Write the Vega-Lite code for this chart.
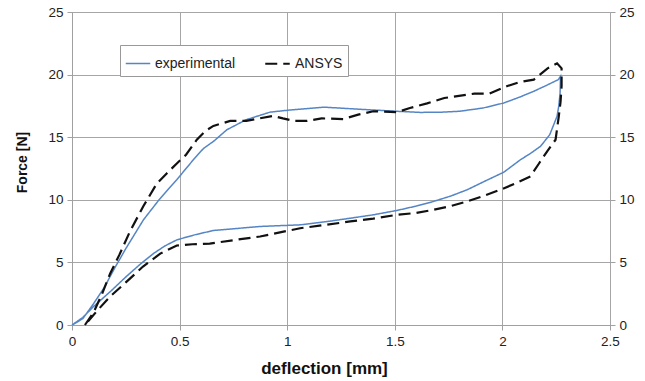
{
  "$schema": "https://vega.github.io/schema/vega-lite/v6.json",
  "width": 538,
  "height": 313,
  "autosize": {"type": "none"},
  "padding": {"left": 72, "top": 12, "right": 35, "bottom": 56},
  "background": "white",
  "config": {
    "font": "Liberation Sans",
    "view": {"stroke": "#a0a0a0", "strokeWidth": 1},
    "axis": {
      "gridColor": "#a6a6a6",
      "gridWidth": 1,
      "gridOpacity": 1,
      "domainColor": "#a0a0a0",
      "tickColor": "#a0a0a0",
      "tickSize": 5,
      "labelFont": "Liberation Sans",
      "labelFontSize": 13.5,
      "labelColor": "#222",
      "titleFont": "Liberation Sans",
      "titleFontSize": 16,
      "titleFontWeight": "bold",
      "titleColor": "#111",
      "labelPadding": 4
    }
  },
  "data": {
    "values": [
      {"series": "experimental", "i": 1, "x": 0, "y": 0},
      {"series": "experimental", "i": 2, "x": 0.05, "y": 0.5},
      {"series": "experimental", "i": 3, "x": 0.1, "y": 1.7},
      {"series": "experimental", "i": 4, "x": 0.15, "y": 3.0},
      {"series": "experimental", "i": 5, "x": 0.2, "y": 4.6},
      {"series": "experimental", "i": 6, "x": 0.25, "y": 6.1},
      {"series": "experimental", "i": 7, "x": 0.332, "y": 8.4},
      {"series": "experimental", "i": 8, "x": 0.4, "y": 9.9},
      {"series": "experimental", "i": 9, "x": 0.45, "y": 10.9},
      {"series": "experimental", "i": 10, "x": 0.487, "y": 11.6},
      {"series": "experimental", "i": 11, "x": 0.53, "y": 12.5},
      {"series": "experimental", "i": 12, "x": 0.564, "y": 13.2},
      {"series": "experimental", "i": 13, "x": 0.611, "y": 14.1},
      {"series": "experimental", "i": 14, "x": 0.66, "y": 14.7},
      {"series": "experimental", "i": 15, "x": 0.72, "y": 15.6},
      {"series": "experimental", "i": 16, "x": 0.81, "y": 16.4},
      {"series": "experimental", "i": 17, "x": 0.92, "y": 17.0},
      {"series": "experimental", "i": 18, "x": 1.0, "y": 17.15},
      {"series": "experimental", "i": 19, "x": 1.09, "y": 17.28},
      {"series": "experimental", "i": 20, "x": 1.17, "y": 17.4},
      {"series": "experimental", "i": 21, "x": 1.27, "y": 17.3},
      {"series": "experimental", "i": 22, "x": 1.37, "y": 17.2},
      {"series": "experimental", "i": 23, "x": 1.51, "y": 17.07},
      {"series": "experimental", "i": 24, "x": 1.62, "y": 16.98},
      {"series": "experimental", "i": 25, "x": 1.72, "y": 17.0},
      {"series": "experimental", "i": 26, "x": 1.8, "y": 17.07},
      {"series": "experimental", "i": 27, "x": 1.91, "y": 17.33},
      {"series": "experimental", "i": 28, "x": 2.006, "y": 17.73},
      {"series": "experimental", "i": 29, "x": 2.08, "y": 18.2},
      {"series": "experimental", "i": 30, "x": 2.146, "y": 18.67},
      {"series": "experimental", "i": 31, "x": 2.2, "y": 19.1},
      {"series": "experimental", "i": 32, "x": 2.26, "y": 19.6},
      {"series": "experimental", "i": 33, "x": 2.27, "y": 19.87},
      {"series": "experimental", "i": 34, "x": 2.268, "y": 18.5},
      {"series": "experimental", "i": 35, "x": 2.262, "y": 17.5},
      {"series": "experimental", "i": 36, "x": 2.254, "y": 16.67},
      {"series": "experimental", "i": 37, "x": 2.22, "y": 15.2},
      {"series": "experimental", "i": 38, "x": 2.177, "y": 14.27},
      {"series": "experimental", "i": 39, "x": 2.13, "y": 13.7},
      {"series": "experimental", "i": 40, "x": 2.084, "y": 13.2},
      {"series": "experimental", "i": 41, "x": 2.006, "y": 12.2},
      {"series": "experimental", "i": 42, "x": 1.92, "y": 11.5},
      {"series": "experimental", "i": 43, "x": 1.836, "y": 10.8},
      {"series": "experimental", "i": 44, "x": 1.76, "y": 10.3},
      {"series": "experimental", "i": 45, "x": 1.68, "y": 9.87},
      {"series": "experimental", "i": 46, "x": 1.6, "y": 9.5},
      {"series": "experimental", "i": 47, "x": 1.51, "y": 9.15},
      {"series": "experimental", "i": 48, "x": 1.4, "y": 8.8},
      {"series": "experimental", "i": 49, "x": 1.293, "y": 8.53},
      {"series": "experimental", "i": 50, "x": 1.18, "y": 8.25},
      {"series": "experimental", "i": 51, "x": 1.06, "y": 8.0},
      {"series": "experimental", "i": 52, "x": 0.874, "y": 7.87},
      {"series": "experimental", "i": 53, "x": 0.76, "y": 7.7},
      {"series": "experimental", "i": 54, "x": 0.657, "y": 7.55},
      {"series": "experimental", "i": 55, "x": 0.57, "y": 7.2},
      {"series": "experimental", "i": 56, "x": 0.487, "y": 6.8},
      {"series": "experimental", "i": 57, "x": 0.43, "y": 6.3},
      {"series": "experimental", "i": 58, "x": 0.378, "y": 5.7},
      {"series": "experimental", "i": 59, "x": 0.32, "y": 4.9},
      {"series": "experimental", "i": 60, "x": 0.254, "y": 3.9},
      {"series": "experimental", "i": 61, "x": 0.18, "y": 2.7},
      {"series": "experimental", "i": 62, "x": 0.1, "y": 1.47},
      {"series": "experimental", "i": 63, "x": 0.05, "y": 0.6},
      {"series": "experimental", "i": 64, "x": 0, "y": 0},
      {"series": "ANSYS", "i": 1, "x": 0.06, "y": 0},
      {"series": "ANSYS", "i": 2, "x": 0.1, "y": 1.0},
      {"series": "ANSYS", "i": 3, "x": 0.14, "y": 2.5},
      {"series": "ANSYS", "i": 4, "x": 0.177, "y": 4.1},
      {"series": "ANSYS", "i": 5, "x": 0.22, "y": 5.6},
      {"series": "ANSYS", "i": 6, "x": 0.27, "y": 7.5},
      {"series": "ANSYS", "i": 7, "x": 0.332, "y": 9.5},
      {"series": "ANSYS", "i": 8, "x": 0.394, "y": 11.3},
      {"series": "ANSYS", "i": 9, "x": 0.44, "y": 12.1},
      {"series": "ANSYS", "i": 10, "x": 0.487, "y": 12.9},
      {"series": "ANSYS", "i": 11, "x": 0.53, "y": 13.6},
      {"series": "ANSYS", "i": 12, "x": 0.58, "y": 14.8},
      {"series": "ANSYS", "i": 13, "x": 0.62, "y": 15.5},
      {"series": "ANSYS", "i": 14, "x": 0.657, "y": 15.9},
      {"series": "ANSYS", "i": 15, "x": 0.735, "y": 16.3},
      {"series": "ANSYS", "i": 16, "x": 0.81, "y": 16.3},
      {"series": "ANSYS", "i": 17, "x": 0.87, "y": 16.5},
      {"series": "ANSYS", "i": 18, "x": 0.936, "y": 16.7},
      {"series": "ANSYS", "i": 19, "x": 0.98, "y": 16.5},
      {"series": "ANSYS", "i": 20, "x": 1.03, "y": 16.3},
      {"series": "ANSYS", "i": 21, "x": 1.09, "y": 16.3},
      {"series": "ANSYS", "i": 22, "x": 1.16, "y": 16.5},
      {"series": "ANSYS", "i": 23, "x": 1.26, "y": 16.45},
      {"series": "ANSYS", "i": 24, "x": 1.33, "y": 16.8},
      {"series": "ANSYS", "i": 25, "x": 1.4, "y": 17.07},
      {"series": "ANSYS", "i": 26, "x": 1.51, "y": 17.0},
      {"series": "ANSYS", "i": 27, "x": 1.57, "y": 17.33},
      {"series": "ANSYS", "i": 28, "x": 1.65, "y": 17.7},
      {"series": "ANSYS", "i": 29, "x": 1.73, "y": 18.13},
      {"series": "ANSYS", "i": 30, "x": 1.87, "y": 18.48},
      {"series": "ANSYS", "i": 31, "x": 1.94, "y": 18.48},
      {"series": "ANSYS", "i": 32, "x": 2.02, "y": 19.07},
      {"series": "ANSYS", "i": 33, "x": 2.08, "y": 19.4},
      {"series": "ANSYS", "i": 34, "x": 2.146, "y": 19.6},
      {"series": "ANSYS", "i": 35, "x": 2.21, "y": 20.5},
      {"series": "ANSYS", "i": 36, "x": 2.254, "y": 20.9},
      {"series": "ANSYS", "i": 37, "x": 2.275, "y": 20.5},
      {"series": "ANSYS", "i": 38, "x": 2.275, "y": 19.07},
      {"series": "ANSYS", "i": 39, "x": 2.27, "y": 17.8},
      {"series": "ANSYS", "i": 40, "x": 2.262, "y": 16.67},
      {"series": "ANSYS", "i": 41, "x": 2.247, "y": 14.8},
      {"series": "ANSYS", "i": 42, "x": 2.208, "y": 13.87},
      {"series": "ANSYS", "i": 43, "x": 2.17, "y": 12.9},
      {"series": "ANSYS", "i": 44, "x": 2.13, "y": 11.87},
      {"series": "ANSYS", "i": 45, "x": 2.06, "y": 11.3},
      {"series": "ANSYS", "i": 46, "x": 1.99, "y": 10.8},
      {"series": "ANSYS", "i": 47, "x": 1.91, "y": 10.3},
      {"series": "ANSYS", "i": 48, "x": 1.836, "y": 9.87},
      {"series": "ANSYS", "i": 49, "x": 1.76, "y": 9.5},
      {"series": "ANSYS", "i": 50, "x": 1.68, "y": 9.2},
      {"series": "ANSYS", "i": 51, "x": 1.6, "y": 8.95},
      {"series": "ANSYS", "i": 52, "x": 1.51, "y": 8.8},
      {"series": "ANSYS", "i": 53, "x": 1.4, "y": 8.5},
      {"series": "ANSYS", "i": 54, "x": 1.293, "y": 8.27},
      {"series": "ANSYS", "i": 55, "x": 1.18, "y": 8.0},
      {"series": "ANSYS", "i": 56, "x": 1.06, "y": 7.73},
      {"series": "ANSYS", "i": 57, "x": 0.874, "y": 7.07},
      {"series": "ANSYS", "i": 58, "x": 0.76, "y": 6.8},
      {"series": "ANSYS", "i": 59, "x": 0.64, "y": 6.5},
      {"series": "ANSYS", "i": 60, "x": 0.56, "y": 6.45},
      {"series": "ANSYS", "i": 61, "x": 0.487, "y": 6.35},
      {"series": "ANSYS", "i": 62, "x": 0.41, "y": 5.7},
      {"series": "ANSYS", "i": 63, "x": 0.33, "y": 4.67},
      {"series": "ANSYS", "i": 64, "x": 0.25, "y": 3.4},
      {"series": "ANSYS", "i": 65, "x": 0.177, "y": 2.27},
      {"series": "ANSYS", "i": 66, "x": 0.12, "y": 1.2},
      {"series": "ANSYS", "i": 67, "x": 0.06, "y": 0}
    ]
  },
  "layer": [
    {
      "mark": {"type": "line", "interpolate": "linear"},
      "encoding": {
        "x": {
          "field": "x", "type": "quantitative",
          "scale": {"domain": [0, 2.5], "nice": false},
          "axis": {"values": [0, 0.5, 1, 1.5, 2, 2.5], "format": "~g", "title": "deflection [mm]", "titleFontSize": 17, "titleX": 252, "titleY": 43, "titleBaseline": "middle", "labelFlush": false}
        },
        "y": {
          "field": "y", "type": "quantitative",
          "scale": {"domain": [0, 25], "nice": false},
          "axis": {"values": [0, 5, 10, 15, 20, 25], "title": "Force [N]", "titleFontSize": 14, "titleX": -50, "titleY": 150, "titleAngle": -90, "titleBaseline": "middle", "titleAlign": "center"}
        },
        "order": {"field": "i", "type": "quantitative"},
        "color": {
          "field": "series", "type": "nominal",
          "scale": {"domain": ["experimental", "ANSYS"], "range": ["#5585c5", "#111111"]},
          "legend": {
            "title": null,
            "orient": "none",
            "legendX": 48,
            "legendY": 33,
            "direction": "horizontal",
            "symbolType": "stroke",
            "symbolSize": 600,
            "symbolStrokeWidth": 2,
            "labelFontSize": 14,
            "labelFont": "Liberation Sans",
            "labelColor": "#222",
            "columnPadding": 24,
            "strokeColor": "#999",
            "fillColor": "white",
            "padding": 5
          }
        },
        "strokeDash": {
          "field": "series", "type": "nominal",
          "scale": {"domain": ["experimental", "ANSYS"], "range": [[1, 0], [12, 6]]},
          "legend": null
        },
        "strokeWidth": {
          "field": "series", "type": "nominal",
          "scale": {"domain": ["experimental", "ANSYS"], "range": [1.5, 2.2]},
          "legend": null
        }
      }
    },
    {
      "mark": {"type": "point", "opacity": 0},
      "encoding": {
        "x": {"field": "x", "type": "quantitative"},
        "y": {
          "field": "y", "type": "quantitative",
          "axis": {"orient": "right", "values": [0, 5, 10, 15, 20, 25], "grid": false, "title": null, "domain": false}
        }
      }
    }
  ],
  "resolve": {"axis": {"y": "independent"}}
}
